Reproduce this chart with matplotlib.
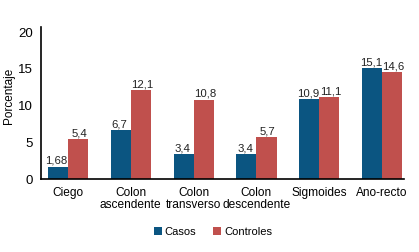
import numpy as np
from matplotlib import pyplot as plt
from matplotlib import font_manager

# pick a condensed font if there is one
names = [f.name for f in font_manager.fontManager.ttflist]
fam = 'Liberation Sans Narrow' if 'Liberation Sans Narrow' in names else 'Liberation Sans'
plt.rcParams['font.family'] = [fam, 'DejaVu Sans']

categorias = ['Ciego', 'Colon\nascendente', 'Colon\ntransverso', 'Colon\ndescendente', 'Sigmoides', 'Ano-recto']
casos = [1.68, 6.7, 3.4, 3.4, 10.9, 15.1]
controles = [5.4, 12.1, 10.8, 5.7, 11.1, 14.6]
casos_txt = ['1,68', '6,7', '3,4', '3,4', '10,9', '15,1']
controles_txt = ['5,4', '12,1', '10,8', '5,7', '11,1', '14,6']

azul = '#0b5581'
rojo = '#c0504d'

fig = plt.figure(figsize=(4.19, 2.52), dpi=100)
ax = fig.add_axes([41/419, 1 - 179/252, 363/419, 152/252])

x = np.arange(len(categorias))
w = 0.32
b1 = ax.bar(x - w/2, casos, w, color=azul, label='Casos')
b2 = ax.bar(x + w/2, controles, w, color=rojo, label='Controles')

for rect, t in zip(b1, casos_txt):
    ax.text(rect.get_x() + rect.get_width()/2 - 0.02, rect.get_height() + 0.1, t,
            ha='center', va='bottom', fontsize=8.2, color='#222222')
for rect, t in zip(b2, controles_txt):
    ax.text(rect.get_x() + rect.get_width()/2 + 0.02, rect.get_height() + 0.1, t,
            ha='center', va='bottom', fontsize=8.2, color='#222222')

ax.set_xlim(-0.43, 5.35)
ax.set_ylim(0, 20.7)
ax.set_yticks([0, 5, 10, 15, 20])
ax.set_xticks(x)
ax.set_xticklabels(categorias, linespacing=1.0)
ax.tick_params(axis='both', length=0)
ax.tick_params(axis='x', pad=6, labelsize=8.6)
ax.tick_params(axis='y', pad=6, labelsize=9.5)
for s in ['top', 'right']:
    ax.spines[s].set_visible(False)
ax.spines['left'].set_linewidth(1.2)
ax.spines['bottom'].set_linewidth(1.2)
ax.set_ylabel('Porcentaje', fontsize=8.5)
ax.yaxis.set_label_coords(-0.072, 0.55)

fig.legend(loc='center', bbox_to_anchor=(213/419, 1 - 232/252), ncol=2, frameon=False,
           fontsize=8, handlelength=0.7, handleheight=0.7, handletextpad=0.3,
           columnspacing=1.5)

fig.savefig('out.png', dpi=100)
